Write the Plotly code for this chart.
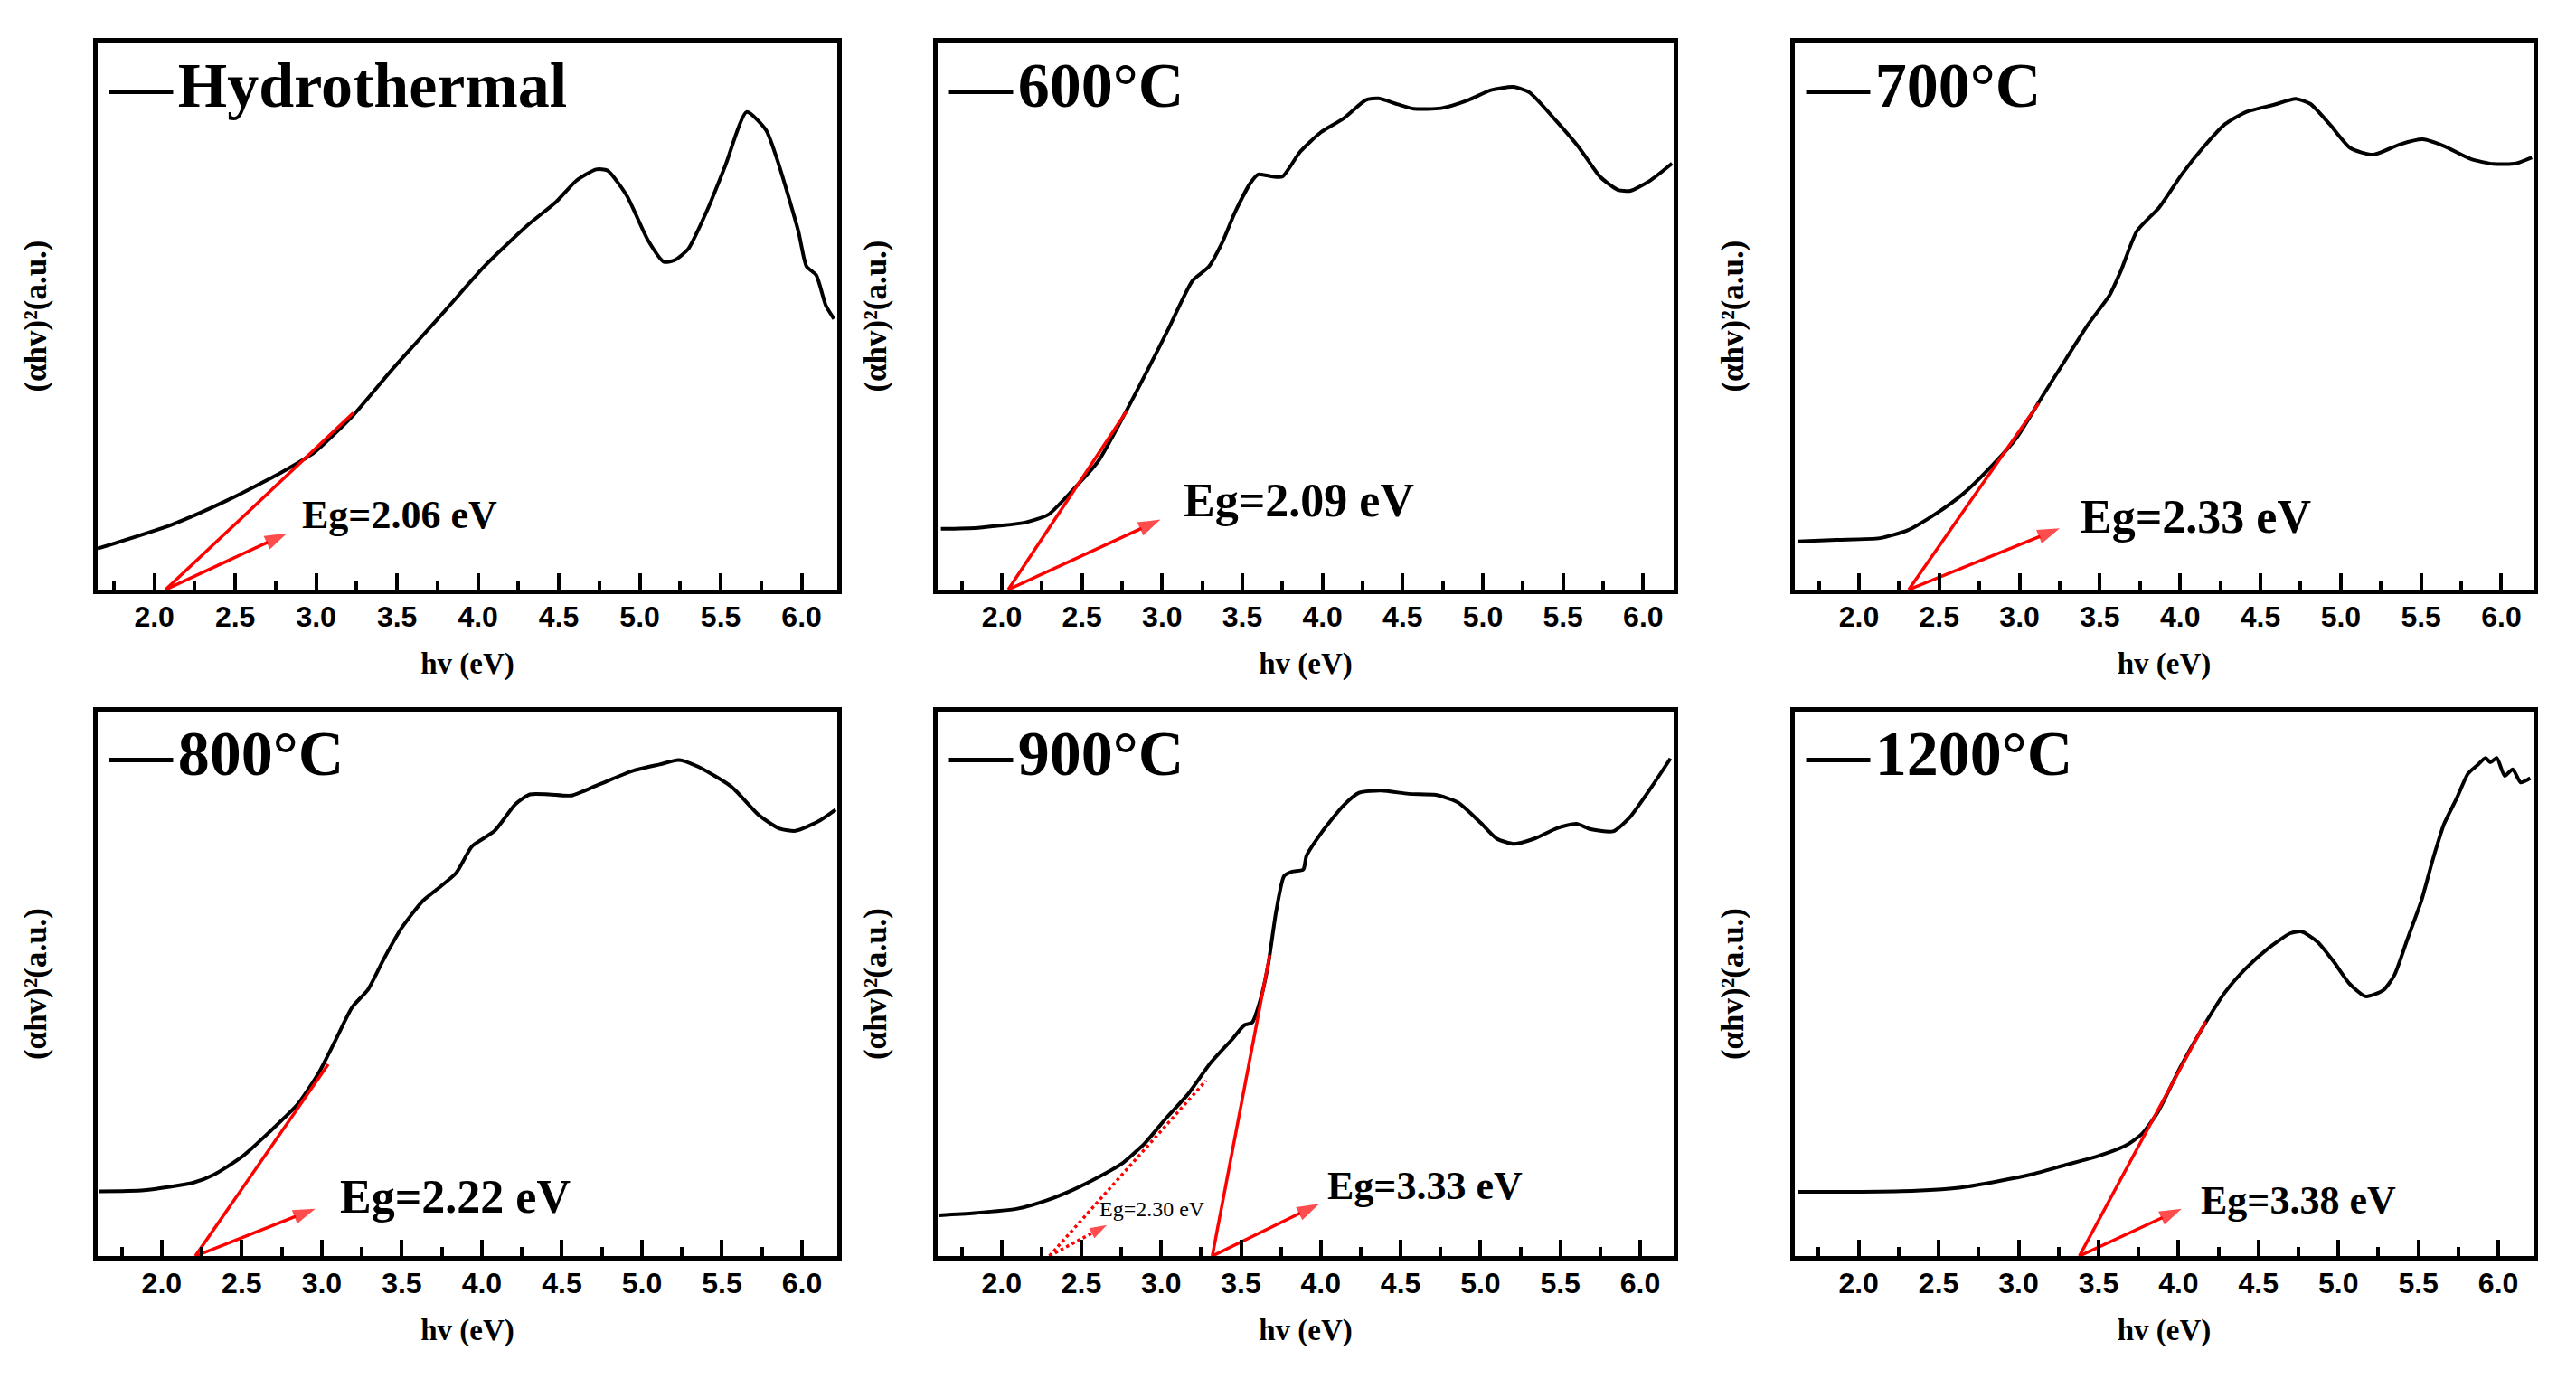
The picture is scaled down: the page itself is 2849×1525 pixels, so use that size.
import plotly.graph_objects as go

# ---------------- data ----------------
samples = ["Hydrothermal", "600°C", "700°C", "800°C", "900°C", "1200°C"]

hydro_e = [1.65, 2.11, 2.45, 2.79, 2.99, 3.23, 3.46, 3.63, 3.80, 4.04, 4.31, 4.48, 4.61, 4.73, 4.80,
           4.92, 5.05, 5.15, 5.22, 5.30, 5.42, 5.53, 5.66, 5.78, 5.86, 5.98, 6.03, 6.09, 6.15, 6.20]
hydro_a = [7.5, 11.9, 16.3, 21.5, 25.1, 31.9, 39.9, 45.5, 51.1, 59.1, 66.7, 70.8, 74.8, 76.8, 76.6,
           72.0, 63.9, 59.9, 60.3, 62.3, 69.6, 77.6, 87.3, 84.0, 77.6, 65.5, 59.1, 57.5, 51.9, 49.5]

t600_e = [1.62, 1.85, 2.15, 2.29, 2.43, 2.60, 2.77, 2.90, 3.04, 3.19, 3.29, 3.38, 3.45, 3.55, 3.60,
          3.69, 3.75, 3.86, 3.99, 4.13, 4.27, 4.35, 4.47, 4.57, 4.74, 4.91, 5.05, 5.19, 5.29, 5.46,
          5.60, 5.73, 5.84, 5.92, 6.04, 6.18]
t600_a = [11.1, 11.3, 12.3, 13.7, 17.8, 23.4, 32.3, 39.6, 47.7, 56.5, 59.0, 63.8, 68.7, 74.3, 75.9,
          75.5, 75.5, 80.0, 83.6, 86.1, 89.5, 89.8, 88.7, 87.9, 88.0, 89.5, 91.3, 91.9, 90.9, 85.6,
          80.8, 75.5, 73.1, 72.9, 74.7, 77.9]

t700_e = [1.62, 1.86, 2.13, 2.30, 2.47, 2.64, 2.81, 2.98, 3.15, 3.29, 3.43, 3.56, 3.63, 3.73, 3.87,
          4.01, 4.14, 4.28, 4.41, 4.58, 4.72, 4.81, 4.93, 5.06, 5.20, 5.37, 5.51, 5.64, 5.81, 5.95,
          6.09, 6.19]
t700_a = [8.8, 9.1, 9.4, 10.8, 13.7, 17.3, 22.1, 27.7, 35.7, 42.2, 48.6, 53.8, 58.2, 65.5, 69.9,
          75.9, 80.7, 85.1, 87.3, 88.6, 89.7, 88.8, 85.1, 80.7, 79.5, 81.4, 82.3, 81.1, 78.7, 77.8,
          77.9, 79.0]

t800_e = [1.61, 1.89, 2.20, 2.33, 2.50, 2.67, 2.85, 2.98, 3.08, 3.19, 3.29, 3.39, 3.50, 3.63, 3.73,
          3.84, 3.94, 4.08, 4.21, 4.30, 4.42, 4.56, 4.73, 4.94, 5.11, 5.23, 5.35, 5.56, 5.73, 5.86,
          5.96, 6.10, 6.21]
t800_a = [11.9, 12.1, 13.5, 15.0, 18.2, 22.7, 27.9, 33.6, 39.3, 45.7, 49.0, 54.7, 60.3, 65.2, 67.6,
          70.4, 75.3, 78.1, 83.0, 84.8, 84.8, 84.6, 86.6, 89.1, 90.3, 91.1, 89.9, 86.2, 81.0, 78.5,
          78.1, 79.8, 82.0]

t900_e = [1.61, 1.83, 2.10, 2.28, 2.45, 2.62, 2.76, 2.90, 3.03, 3.17, 3.31, 3.45, 3.52, 3.57, 3.62,
          3.67, 3.72, 3.77, 3.82, 3.89, 3.91, 4.00, 4.14, 4.24, 4.38, 4.55, 4.72, 4.86, 5.00, 5.10,
          5.21, 5.34, 5.48, 5.60, 5.69, 5.83, 5.93, 6.07, 6.19]
t900_a = [7.5, 7.9, 8.7, 10.2, 12.2, 14.7, 17.1, 20.8, 25.3, 29.8, 35.5, 40.0, 42.4, 42.9, 46.9,
          53.5, 63.3, 69.8, 70.6, 71.0, 73.5, 77.6, 82.7, 85.1, 85.5, 84.9, 84.7, 83.3, 79.6, 76.7,
          75.7, 76.7, 78.6, 79.4, 78.4, 78.0, 80.4, 86.1, 91.4]

t1200_e = [1.62, 2.02, 2.36, 2.64, 2.88, 3.08, 3.29, 3.49, 3.67, 3.77, 3.87, 4.01, 4.15, 4.29, 4.42,
           4.56, 4.70, 4.77, 4.87, 4.97, 5.07, 5.17, 5.28, 5.35, 5.43, 5.52, 5.59, 5.66, 5.74, 5.81,
           5.87, 5.92, 5.95, 5.99, 6.04, 6.09, 6.14, 6.20]
t1200_a = [11.8, 11.8, 12.0, 12.6, 13.8, 15.0, 16.7, 18.3, 20.3, 22.4, 26.4, 34.6, 41.9, 48.4, 52.8,
           56.5, 59.3, 59.6, 57.7, 54.1, 50.0, 47.7, 48.8, 51.6, 58.1, 65.4, 72.8, 79.3, 84.1, 88.6,
           90.2, 91.5, 90.7, 91.5, 88.2, 89.4, 87.0, 87.8]

energies = [hydro_e, t600_e, t700_e, t800_e, t900_e, t1200_e]
absorbance = [hydro_a, t600_a, t700_a, t800_a, t900_a, t1200_a]

x_title = "hv (eV)"
y_title = "(αhv)²(a.u.)"

eg_labels = ["Eg=2.06 eV", "Eg=2.09 eV", "Eg=2.33 eV", "Eg=2.22 eV", "Eg=3.33 eV", "Eg=3.38 eV"]
# tangent line: intercept on the energy axis and upper end point
tan_start_e = [2.07, 2.04, 2.31, 2.21, 3.32, 3.38]
tan_end_e = [3.23, 2.78, 3.12, 3.04, 3.68, 4.17]
tan_end_a = [32.3, 32.7, 34.1, 35.2, 55.3, 43.1]
# arrow head and label anchor
arrow_e = [2.82, 2.99, 3.25, 2.96, 3.99, 4.02]
arrow_a = [10.3, 12.8, 11.2, 8.7, 9.6, 8.7]
label_e = [2.90, 3.12, 3.37, 3.10, 4.03, 4.13]
label_a = [13.6, 16.2, 13.3, 10.9, 12.8, 10.2]

# secondary (dotted) tangent of the 900°C sample
eg2_label = "Eg=2.30 eV"
tan2_e = [2.30, 3.28]
tan2_a = [0.0, 32.2]
arrow2_e = [2.30, 2.66]
arrow2_a = [0.0, 5.7]
label2_e, label2_a = 2.60, 8.6

x_ranges = [[1.65, 6.22], [1.60, 6.19], [1.60, 6.20], [1.60, 6.22], [1.60, 6.21], [1.60, 6.22]]

# ---------------- styling ----------------
W, H = 2849, 1525
col_dom = [[0.0351, 0.3222], [0.3612, 0.6469], [0.6939, 0.9807]]
row_dom = [[0.5777, 0.9744], [0.0944, 0.4892]]
eg_font_sizes = [44, 52, 52, 52, 44, 44]

SERIF = "Liberation Serif"
SANS = "Liberation Sans"
RED = "#ff0000"

fig = go.Figure()
annotations = []
layout_axes = {}

for i, name in enumerate(samples):
    sfx = "" if i == 0 else str(i + 1)
    xr, yr = "x" + sfx, "y" + sfx
    col, row = i % 3, i // 3

    layout_axes["xaxis" + sfx] = dict(
        domain=col_dom[col], anchor=yr, range=x_ranges[i],
        showline=True, linecolor="black", linewidth=5, mirror=True,
        ticks="inside", ticklen=18, tickwidth=3.5, tickcolor="black",
        tick0=0, dtick=0.5, tickformat=".1f",
        minor=dict(ticks="inside", ticklen=10, tickwidth=3.5, tickcolor="black", tick0=0, dtick=0.25),
        showgrid=False, zeroline=False, ticklabelstandoff=-2,
        tickfont=dict(family=SANS, size=32, color="black", weight="bold"),
        title=dict(text=x_title, standoff=24,
                   font=dict(family=SERIF, size=33, color="black", weight="bold")),
    )
    layout_axes["yaxis" + sfx] = dict(
        domain=row_dom[row], anchor=xr, range=[0, 100],
        showline=True, linecolor="black", linewidth=5, mirror=True,
        ticks="", showticklabels=False, showgrid=False, zeroline=False,
        title=dict(text=y_title, standoff=42,
                   font=dict(family=SERIF, size=35, color="black", weight="bold")),
    )

    # spectrum
    fig.add_trace(go.Scatter(
        x=energies[i], y=absorbance[i], mode="lines", name=name, xaxis=xr, yaxis=yr,
        line=dict(color="black", width=4, shape="spline", smoothing=0.6), showlegend=False,
    ))
    # tangent
    fig.add_trace(go.Scatter(
        x=[tan_start_e[i], tan_end_e[i]], y=[0, tan_end_a[i]], mode="lines", xaxis=xr, yaxis=yr,
        line=dict(color=RED, width=3.5), showlegend=False, hoverinfo="skip",
    ))
    # arrow from the intercept to the label
    fig.add_trace(go.Scatter(
        x=[tan_start_e[i], arrow_e[i]], y=[0, arrow_a[i]], mode="lines+markers", xaxis=xr, yaxis=yr,
        line=dict(color=RED, width=3.5),
        marker=dict(symbol="arrow", angleref="previous", size=[0, 26], color=RED,
                    line=dict(width=0)),
        showlegend=False, hoverinfo="skip",
    ))
    # Eg label
    annotations.append(dict(
        x=label_e[i], y=label_a[i], xref=xr, yref=yr, text=eg_labels[i], showarrow=False,
        xanchor="left", yanchor="middle",
        font=dict(family=SERIF, size=eg_font_sizes[i], color="black", weight="bold"),
    ))
    # legend-like title
    annotations.append(dict(
        x=0.012, y=0.922, xref=xr + " domain", yref=yr + " domain", text="—\u200a" + name,
        showarrow=False, xanchor="left", yanchor="middle",
        font=dict(family=SERIF, size=70, color="black", weight="bold"),
    ))

# 900°C dotted tangent and its small arrow/label
fig.add_trace(go.Scatter(
    x=tan2_e, y=tan2_a, mode="lines", xaxis="x5", yaxis="y5",
    line=dict(color=RED, width=3.5, dash="dot"), showlegend=False, hoverinfo="skip",
))
fig.add_trace(go.Scatter(
    x=arrow2_e, y=arrow2_a, mode="lines+markers", xaxis="x5", yaxis="y5",
    line=dict(color=RED, width=3.5, dash="dot"),
    marker=dict(symbol="arrow", angleref="previous", size=[0, 20], color=RED, line=dict(width=0)),
    showlegend=False, hoverinfo="skip",
))
annotations.append(dict(
    x=label2_e, y=label2_a, xref="x5", yref="y5", text=eg2_label, showarrow=False,
    xanchor="left", yanchor="middle",
    font=dict(family=SERIF, size=24, color="black"),
))

fig.update_layout(
    width=W, height=H, margin=dict(l=0, r=0, t=0, b=0),
    paper_bgcolor="white", plot_bgcolor="white",
    annotations=annotations, **layout_axes,
)

fig.write_html("out.html")
